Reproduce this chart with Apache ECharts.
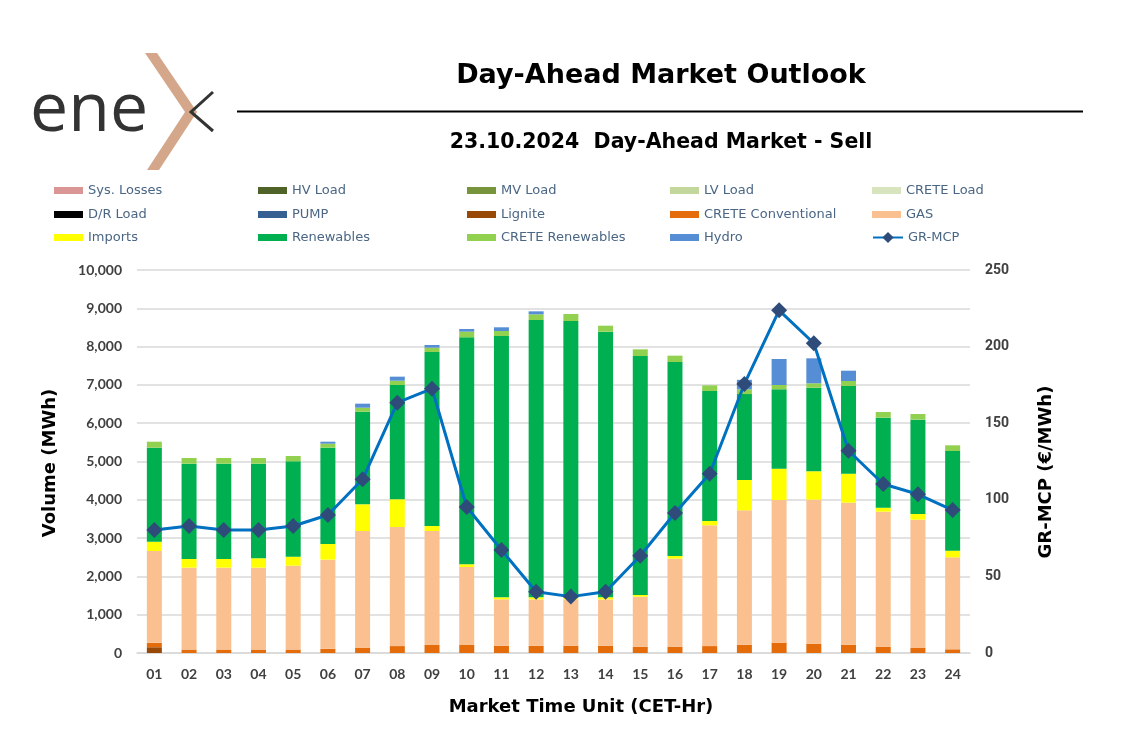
<!DOCTYPE html>
<html>
<head>
<meta charset="utf-8">
<script src="https://cdn.jsdelivr.net/npm/echarts@6/dist/echarts.min.js"></script>
<style>
html,body{margin:0;padding:0;background:#fff;}
#chart{width:1126px;height:733px;}
</style>
</head>
<body>
<div id="chart"></div>
<script>
const hours = ['01','02','03','04','05','06','07','08','09','10','11','12','13','14','15','16','17','18','19','20','21','22','23','24'];
const sysLosses = [0,0,0,0,0,0,0,0,0,0,0,0,0,0,0,0,0,0,0,0,0,0,0,0];
const hvLoad    = [0,0,0,0,0,0,0,0,0,0,0,0,0,0,0,0,0,0,0,0,0,0,0,0];
const mvLoad    = [0,0,0,0,0,0,0,0,0,0,0,0,0,0,0,0,0,0,0,0,0,0,0,0];
const lvLoad    = [0,0,0,0,0,0,0,0,0,0,0,0,0,0,0,0,0,0,0,0,0,0,0,0];
const creteLoad = [0,0,0,0,0,0,0,0,0,0,0,0,0,0,0,0,0,0,0,0,0,0,0,0];
const drLoad    = [0,0,0,0,0,0,0,0,0,0,0,0,0,0,0,0,0,0,0,0,0,0,0,0];
const pump      = [0,0,0,0,0,0,0,0,0,0,0,0,0,0,0,0,0,0,0,0,0,0,0,0];
const lignite   = [150,0,0,0,0,0,0,0,0,0,0,0,0,0,0,0,0,0,0,0,0,0,0,0];
const creteConv = [115,90,90,90,90,110,140,180,210,210,190,190,190,190,165,165,180,217,270,243,217,165,130,96];
const gas       = [2398,2138,2138,2138,2190,2327,3045,3110,2975,2035,1212,1210,1210,1210,1306,2298,3154,3508,3725,3760,3708,3525,3351,2402];
const imports   = [243,226,226,244,235,409,697,723,131,71,52,55,40,55,43,70,112,792,818,741,757,105,148,174];
const renewables= [2454,2489,2489,2471,2490,2514,2418,2984,4543,5927,6823,7239,7228,6935,6241,5065,3395,2243,2072,2183,2289,2349,2463,2602];
const creteRen  = [157,148,148,148,139,105,105,113,113,147,130,149,183,156,174,165,148,125,112,115,131,148,148,149];
const hydro     = [0,0,0,0,0,52,105,105,70,70,97,78,0,0,0,0,0,248,679,652,269,0,0,0];
const grMcp     = [80.3,82.9,80.3,80.3,82.9,90.1,113.4,163.4,172.5,95.3,67.2,40.0,36.8,40.0,63.5,91.4,117.0,175.6,223.7,202.2,132.0,110.3,103.6,93.3];

const barDefs = [
  ['Sys. Losses', sysLosses, '#D99694'],
  ['HV Load', hvLoad, '#4F6228'],
  ['MV Load', mvLoad, '#77933C'],
  ['LV Load', lvLoad, '#C3D69B'],
  ['CRETE Load', creteLoad, '#D7E4BD'],
  ['D/R Load', drLoad, '#000000'],
  ['PUMP', pump, '#376092'],
  ['Lignite', lignite, '#984807'],
  ['CRETE Conventional', creteConv, '#E46C0A'],
  ['GAS', gas, '#FAC090'],
  ['Imports', imports, '#FFFF00'],
  ['Renewables', renewables, '#00B050'],
  ['CRETE Renewables', creteRen, '#92D050'],
  ['Hydro', hydro, '#558ED5']
];
const legendRows = [
  ['Sys. Losses','HV Load','MV Load','LV Load','CRETE Load'],
  ['D/R Load','PUMP','Lignite','CRETE Conventional','GAS'],
  ['Imports','Renewables','CRETE Renewables','Hydro','GR-MCP']
];
const legendColX = [54, 258, 467, 670, 872];
const legendRowY = [191, 215, 238];

const chart = echarts.init(document.getElementById('chart'), null, {renderer:'canvas'});

const series = barDefs.map(d => ({
  name: d[0], type: 'bar', stack: 'vol', data: d[1], barWidth: 15,
  itemStyle: {color: d[2]}, emphasis: {disabled: true}
}));
series.push({
  name: 'GR-MCP', type: 'line', yAxisIndex: 1, data: grMcp,
  symbol: 'diamond', symbolSize: 16, z: 10,
  lineStyle: {color: '#0070C0', width: 3},
  itemStyle: {color: '#2E4B7A'}
});

const legends = [];
legendRows.forEach((row, r) => {
  row.forEach((name, c) => {
    const isLine = name === 'GR-MCP';
    legends.push({
      data: [isLine ? name : {name: name, icon: 'rect'}],
      left: legendColX[c], top: legendRowY[r] - 7,
      itemWidth: isLine ? 30 : 29, itemHeight: isLine ? 14 : 7, itemGap: 0,
      padding: 0, selectedMode: false,
      textStyle: {fontFamily: 'DejaVu Sans', fontSize: 13, color: '#4A6684'}
    });
  });
});

const FONT = 'DejaVu Sans';
chart.setOption({
  animation: false,
  backgroundColor: '#fff',
  textStyle: {fontFamily: FONT},
  legend: legends,
  grid: {left: 137, right: 156, top: 270, bottom: 80, containLabel: false},
  xAxis: {
    type: 'category', data: hours,
    axisLine: {lineStyle: {color: '#D9D9D9', width: 1.5}},
    axisTick: {show: false},
    axisLabel: {fontFamily: 'Lato', fontWeight: 'bold', fontSize: 14, color: '#404040', margin: 14}
  },
  yAxis: [{
    type: 'value', min: 0, max: 10000, interval: 1000,
    axisLine: {show: false}, axisTick: {show: false},
    splitLine: {lineStyle: {color: '#D9D9D9', width: 1.5}},
    axisLabel: {fontFamily: 'Lato', fontWeight: 'bold', fontSize: 14, color: '#404040', margin: 15,
      formatter: v => v.toLocaleString('en-US')}
  }, {
    type: 'value', min: 0, max: 250, interval: 50,
    axisLine: {show: false}, axisTick: {show: false}, splitLine: {show: false},
    axisLabel: {fontFamily: 'Roboto', fontWeight: 'bold', fontSize: 14, color: '#404040', margin: 15}
  }],
  series: series,
  graphic: [
    {type: 'text', x: 661, y: 76, style: {text: 'Day-Ahead Market Outlook', font: 'bold 27px "DejaVu Sans"', fill: '#000', align: 'center', verticalAlign: 'middle'}},
    {type: 'line', shape: {x1: 237, y1: 111.5, x2: 1083, y2: 111.5}, style: {stroke: '#000', lineWidth: 2}},
    {type: 'text', x: 661, y: 143, style: {text: '23.10.2024  Day-Ahead Market - Sell', font: 'bold 20.5px "DejaVu Sans"', fill: '#000', align: 'center', verticalAlign: 'middle'}},
    {type: 'text', x: 50, y: 463, rotation: Math.PI/2, style: {text: 'Volume (MWh)', font: 'bold 18px "DejaVu Sans"', fill: '#000', align: 'center', verticalAlign: 'middle'}},
    {type: 'text', x: 1046, y: 472, rotation: Math.PI/2, style: {text: 'GR-MCP (€/MWh)', font: 'bold 18px "DejaVu Sans"', fill: '#000', align: 'center', verticalAlign: 'middle'}},
    {type: 'text', x: 581, y: 707, style: {text: 'Market Time Unit (CET-Hr)', font: 'bold 18px "DejaVu Sans"', fill: '#000', align: 'center', verticalAlign: 'middle'}},
    {type: 'text', x: 30, y: 112, style: {text: 'ene', font: '400 68px "Open Sans"', fill: '#333333', align: 'left', verticalAlign: 'middle'}},
    {type: 'polygon', shape: {points: [[145,53],[157,53],[197,112],[159,170],[147,170],[185,112]]}, style: {fill: '#D4A78A'}},
    {type: 'polyline', shape: {points: [[213,92],[191,112],[213,131]]}, style: {stroke: '#333333', lineWidth: 3, fill: null}}
  ]
});
</script>
</body>
</html>
